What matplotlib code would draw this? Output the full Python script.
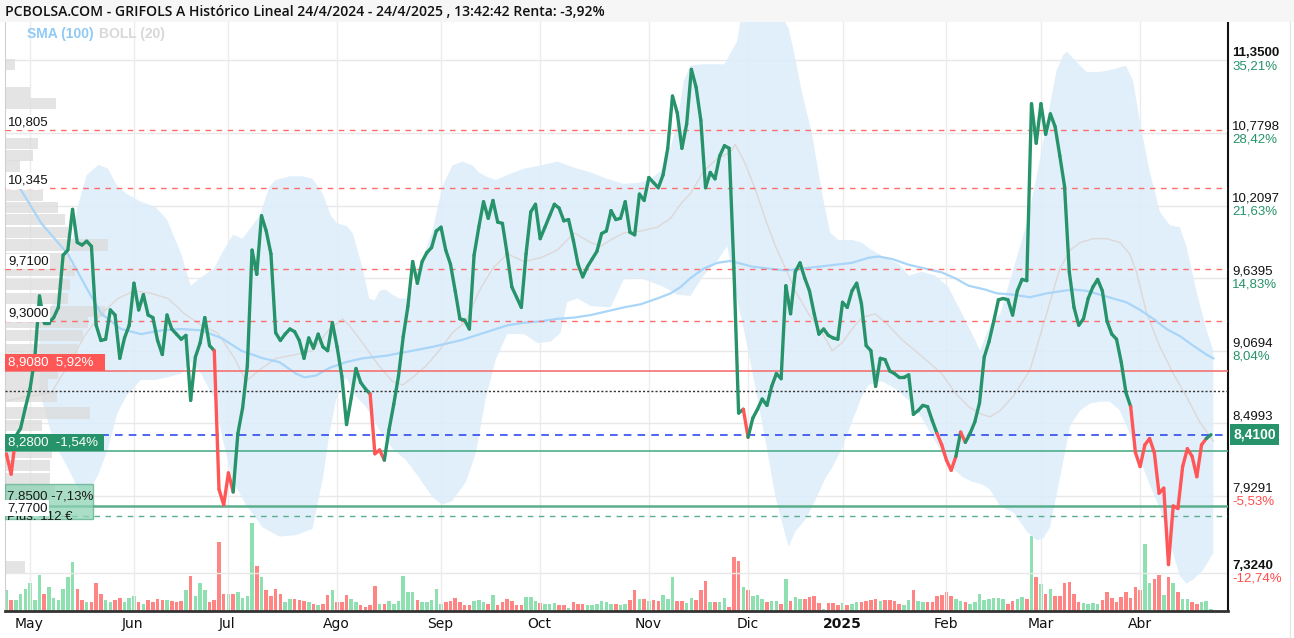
import numpy as np
import matplotlib.pyplot as plt
from matplotlib.collections import LineCollection
from matplotlib.patches import Rectangle
from matplotlib.transforms import blended_transform_factory

# Cierres diarios GRIFOLS A, sesiones del 24/4/2024 al 24/4/2025
precio = [
    8.26, 8.10, 8.40, 8.46, 8.62, 8.77, 9.01, 9.50, 9.29, 9.29,
    9.33, 9.41, 9.82, 9.86, 10.18, 9.92, 9.90, 9.93, 9.89, 9.27,
    9.15, 9.16, 9.39, 9.35, 9.01, 9.17, 9.27, 9.60, 9.39, 9.51,
    9.35, 9.33, 9.15, 9.04, 9.35, 9.24, 9.20, 9.16, 9.19, 8.68,
    9.02, 9.13, 9.33, 9.11, 9.07, 7.98, 7.86, 8.11, 7.96, 8.42,
    8.62, 8.95, 9.86, 9.67, 10.13, 10.01, 9.83, 9.21, 9.15, 9.20,
    9.24, 9.22, 9.15, 9.01, 9.17, 9.09, 9.20, 9.10, 9.07, 9.29,
    9.10, 8.87, 8.49, 8.70, 8.93, 8.82, 8.77, 8.73, 8.26, 8.29,
    8.21, 8.45, 8.65, 8.87, 9.18, 9.42, 9.77, 9.60, 9.77, 9.84,
    9.88, 10.01, 10.04, 9.86, 9.75, 9.54, 9.32, 9.31, 9.24, 9.82,
    10.04, 10.24, 10.11, 10.25, 10.08, 10.07, 9.83, 9.57, 9.49, 9.41,
    9.83, 10.16, 10.22, 9.95, 10.04, 10.13, 10.22, 10.19, 10.09, 10.10,
    9.94, 9.75, 9.65, 9.73, 9.79, 9.85, 9.99, 10.01, 10.17, 10.10,
    10.11, 10.24, 10.00, 9.98, 10.30, 10.25, 10.43, 10.39, 10.35, 10.45,
    10.66, 11.07, 10.94, 10.66, 10.85, 11.28, 11.14, 10.88, 10.35, 10.47,
    10.42, 10.60, 10.68, 10.66, 9.72, 8.58, 8.61, 8.39, 8.54, 8.61,
    8.69, 8.64, 8.79, 8.89, 8.85, 9.58, 9.36, 9.69, 9.76, 9.64,
    9.54, 9.36, 9.20, 9.24, 9.19, 9.17, 9.16, 9.45, 9.41, 9.54,
    9.60, 9.44, 9.11, 9.07, 8.79, 9.01, 9.00, 8.91, 8.89, 8.86,
    8.86, 8.88, 8.57, 8.60, 8.64, 8.63, 8.52, 8.42, 8.33, 8.21,
    8.13, 8.24, 8.43, 8.35, 8.42, 8.51, 8.66, 9.02, 9.14, 9.30,
    9.47, 9.48, 9.47, 9.35, 9.54, 9.63, 9.62, 11.01, 10.70, 11.01,
    10.77, 10.93, 10.83, 10.60, 10.36, 9.69, 9.41, 9.27, 9.32, 9.48,
    9.57, 9.63, 9.54, 9.30, 9.20, 9.16, 8.98, 8.74, 8.63, 8.27,
    8.16, 8.33, 8.38, 8.27, 7.95, 7.99, 7.39, 7.85, 7.83, 8.16,
    8.30, 8.24, 8.08, 8.33, 8.38, 8.41,
]

volumen = [
    55, 30, 30, 45, 60, 75, 30, 95, 45, 65, 35, 30, 60, 90, 130, 60, 30, 25, 25, 75,
    45, 30, 25, 30, 35, 25, 35, 40, 25, 20, 30, 25, 33, 30, 30, 27, 25, 27, 55, 93,
    40, 75, 55, 25, 30, 185, 45, 45, 45, 50, 35, 40, 235,
    120, 90, 55, 40, 60, 45, 25, 33, 33, 30, 28, 25, 18, 15, 20, 43, 55, 25, 25, 43,
    33, 25, 15, 10, 15, 67, 20, 20, 27, 20, 27, 93, 50, 50, 30, 25, 25, 30, 60, 20,
    25, 27, 35, 23, 15, 15, 28, 30, 25, 20, 43,
    15, 23, 33, 28, 15, 15, 38, 38, 28, 22, 18, 18, 22, 15, 15, 7, 25, 20, 20, 15,
    15, 18, 27, 23, 20, 20, 17, 20, 30, 55, 33, 33, 28, 30, 28, 42, 33, 90, 27, 27,
    22, 35, 30, 55, 80, 23, 23, 25, 35, 10, 145, 135,
    65, 55, 40, 42, 33, 25, 27, 28, 18, 85, 27, 38, 32, 32, 38, 40, 22, 5, 22, 22,
    15, 22, 15, 20, 25, 25, 28, 30, 33, 28, 30, 30, 27, 20, 15, 30, 57, 27, 25, 23,
    25, 40, 43, 50, 40, 33, 28, 25, 18, 23, 45,
    30, 33, 35, 35, 32, 18, 28, 33, 38, 33, 200, 90, 72, 45, 60, 40, 40, 75, 78, 45,
    25, 22, 20, 22, 18, 30, 50, 35, 25, 37, 52, 35, 65, 55, 180, 75, 85, 95, 43, 90,
    75, 50, 33, 33, 25, 20, 25, 28, 5,
]

# Bandas de Bollinger (20): (sesion, valor)
boll_sup_x = [7, 9.5, 13, 15, 17, 19.5, 21.5, 23.5, 25.5, 28.5, 31.5, 34, 37, 39, 41, 44, 46, 48, 50,
              53.6, 55.7, 57, 60, 62.7, 64.8, 67, 68.7, 70, 72, 73.3, 75.4, 76.8, 78, 79, 80.3, 81.7,
              83.2, 85.3, 87.4, 90.2, 92.3, 94.4, 96.5, 98.7, 100, 101.5, 103.6, 106, 109.6, 113,
              116.6, 120, 123.7, 127.2, 130.7, 134.3, 136.4, 138.5, 140.6, 142, 143.4, 144.8, 147.6,
              152, 154.7, 156, 159, 162, 165.6, 166.7, 168.4, 170.5, 172.7, 174.4, 176.2, 179, 181,
              183.2, 186, 189, 191, 193.8, 196.6, 199.4, 202.3, 205, 206.1, 208.2, 210.4, 213.2, 216,
              218, 220.2, 222.3, 223.7, 224.5, 226.6, 228.7, 231.5, 234.3, 237, 238.5, 240, 242, 244.2,
              246.3, 248.4, 249.8, 251.9, 254, 255.5]
boll_sup = [9.33, 9.41, 9.72, 10.19, 10.45, 10.53, 10.50, 10.36, 10.30, 10.24, 10.20, 10.10, 9.83, 9.58,
            9.64, 9.72, 9.86, 9.98, 9.95,
            10.13, 10.36, 10.41, 10.44, 10.44, 10.42, 10.30, 10.13, 10.07, 10.05, 9.995, 9.72, 9.48,
            9.465, 9.54, 9.55, 9.51, 9.48, 9.48, 9.72, 10.01, 10.36, 10.525, 10.555, 10.525, 10.47,
            10.44, 10.41, 10.45, 10.50, 10.525, 10.555, 10.51, 10.47, 10.42, 10.38, 10.39, 10.42,
            10.48, 10.66, 10.865, 11.19, 11.31, 11.32, 11.32, 11.5, 11.8, 11.95, 11.85, 11.60, 11.42,
            11.10, 10.78, 10.30, 9.995, 9.94, 9.94, 9.92, 9.86, 9.80, 9.75, 9.66, 9.69, 9.66, 9.57,
            9.36, 9.16, 9.07, 9.27, 9.36, 9.715, 10.07, 10.42, 10.86, 11.27, 11.39, 11.42, 11.335,
            11.26, 11.26, 11.28, 11.31, 11.19, 10.86, 10.48, 10.16, 10.055, 10.04, 9.89, 9.54, 9.24,
            9.07]
boll_inf_x = [7, 10, 13, 15, 17, 19.5, 21.5, 23.5, 25.5, 28.5, 31.5, 34, 37, 39, 41, 44, 46, 48,
              50.7, 54.3, 57.8, 61.3, 64.8, 67, 68.4, 69.8, 71.9, 74, 76.1, 78.9, 81.7, 84.6, 87.4,
              90.2, 92.3, 94.4, 97.3, 99.4, 101.5, 103.6, 106, 109.6, 112.4, 115.2, 117.3, 118.7,
              120.9, 123.7, 127.9, 130.7, 134.3, 139.2, 142, 144.8, 147.6, 150.5, 152.6, 154.3,
              156.4, 158.6, 160.7, 162.8, 164.9, 165.6, 167, 169.1, 171.2, 173.4, 174.8, 176.9, 179,
              181.1, 182.5, 185.3, 188.2, 191, 193.8, 196.6, 199.4, 202.3, 204.4, 206.5, 208.2,
              210.4, 213.2, 216, 218.1, 219.5, 220.9, 223, 225.2, 227.3, 229.4, 231.5, 233.6, 235.7,
              237.1, 238.5, 240, 242.1, 244.2, 246.3, 248.4, 249.8, 251.2, 253.3, 255.5]
boll_inf = [8.75, 8.35, 8.15, 8.00, 7.93, 8.10, 8.30, 8.58, 8.72, 8.84, 8.84, 8.86, 8.89, 8.98, 8.90,
            8.70, 8.34, 8.04,
            7.86, 7.68, 7.61, 7.62, 7.67, 8.07, 8.42, 8.685, 8.86, 8.71, 8.63, 8.45, 8.30, 8.21, 8.07,
            7.92, 7.86, 7.89, 8.04, 8.27, 8.70, 9.00, 9.20, 9.20, 9.13, 9.14, 9.21, 9.45,
            9.48, 9.42, 9.41, 9.63, 9.64, 9.57, 9.51, 9.50, 9.66, 9.775, 9.89, 9.54,
            9.185, 8.77, 8.36, 7.92, 7.62, 7.53, 7.65, 7.74, 7.89, 8.07, 8.15, 8.30, 8.51,
            8.71, 8.80, 8.83, 8.77, 8.68, 8.54, 8.36, 8.18, 8.08, 8.04, 8.02, 7.98,
            7.845, 7.80, 7.65, 7.58, 7.595, 7.68, 8.065, 8.48, 8.60, 8.655, 8.67, 8.67, 8.60,
            8.48, 8.36, 8.21, 8.01, 7.83, 7.565, 7.30, 7.24, 7.27, 7.345, 7.48]
boll_med_x = [0.35, 3.2, 9.5, 13, 16.6, 20.1, 23.6, 27.1, 30.7, 34.2, 37.7, 41.2, 44.7, 48.3, 50.7,
              53.6, 57.1, 61.3, 64.8, 68.4, 71.2, 72.6, 75.4, 78.9, 81.7, 83.9, 86, 88.8, 91.6, 94.4,
              97.3, 100.1, 103, 106.1, 109.6, 113.1, 116.6, 120.2, 123.7, 125.8, 127.9, 130.7, 134.3,
              137.8, 140.6, 142.7, 144.8, 147.6, 150.5, 153.3, 154.3, 156.4, 158.6, 160.7, 162.8,
              164.9, 167, 169.8, 172.7, 174.8, 176.9, 179, 181.1, 183.9, 186.7, 189.6, 192.4, 195.2,
              198, 200.8, 203.7, 206.5, 208.2, 210.4, 213.2, 216.7, 220.2, 223, 225.2, 227.3, 230.1,
              232.9, 235.7, 237.8, 239.2, 241.4, 244.2, 247, 249.8, 252.6, 255.5]
boll_med = [8.68, 8.70, 8.74, 8.95, 9.19, 9.36, 9.48, 9.54, 9.52, 9.48, 9.36, 9.27, 9.21, 9.01, 8.83,
            8.92, 9.01, 9.04, 9.07, 9.24, 9.32, 9.27, 9.13, 8.95, 8.83, 8.80, 8.86, 8.95, 9.07, 9.21,
            9.30, 9.54, 9.72, 9.83, 9.77, 9.80, 9.86, 9.995, 9.92, 9.89, 9.94, 9.995, 10.01,
            10.04, 10.11, 10.22, 10.305, 10.48, 10.58, 10.63, 10.69, 10.54, 10.33, 10.10, 9.89,
            9.72, 9.54, 9.36, 9.21, 9.07, 9.13, 9.24, 9.33, 9.36, 9.27, 9.155, 9.07, 8.98,
            8.89, 8.74, 8.63, 8.57, 8.55, 8.60, 8.715, 8.92, 9.36, 9.715, 9.86, 9.92, 9.95,
            9.95, 9.92, 9.83, 9.69, 9.36, 9.10, 8.89, 8.71, 8.51, 8.36]

# Media simple 100 sesiones
sma_x = [2.8, 7.4, 13, 17.3, 20.1, 24.3, 28.5, 32.8, 37, 41.2, 45.5, 49.7, 54.3, 57.8, 61.3, 63.1,
         65.5, 68.4, 71.9, 75.4, 80.3, 86, 90.2, 96.5, 103.6, 106.1, 109.6, 113.1, 116.6, 120.2,
         123.7, 127.2, 130.7, 134.3, 137.8, 140.6, 142.7, 144.8, 147.6, 150.5, 153.3, 157.9, 161.4,
         164.9, 168.4, 172, 175.5, 179, 182.5, 184.6, 187.5, 191, 194.5, 198, 200.8, 203.7, 207.2,
         209.7, 213.2, 216.7, 220.2, 223.7, 225.9, 228.7, 231.5, 234.3, 237.1, 240, 242.8, 245.6,
         248.4, 251.2, 254, 255.5]
sma = [10.35, 10.07, 9.83, 9.54, 9.36, 9.24, 9.20, 9.23, 9.24, 9.23, 9.17, 9.07, 9.01, 8.98, 8.89,
       8.86, 8.875, 8.935, 8.98, 9.01, 9.03, 9.07, 9.10, 9.155, 9.24, 9.27, 9.29, 9.30, 9.32, 9.33,
       9.35, 9.38, 9.41, 9.435, 9.48, 9.52, 9.57, 9.64, 9.715, 9.76, 9.775, 9.73, 9.715,
       9.70, 9.715, 9.73, 9.745, 9.76, 9.80, 9.81, 9.79, 9.745, 9.715, 9.685, 9.64, 9.58, 9.55,
       9.52, 9.51, 9.49, 9.52, 9.54, 9.55, 9.54, 9.51, 9.48, 9.45, 9.39, 9.32, 9.24,
       9.185, 9.11, 9.04, 9.01]

# Perfil de volumen por precio (lado izquierdo)
perfil_precio = [11.315, 11.10, 11.01, 10.70, 10.605, 10.52, 10.29, 10.195, 10.10, 10.00, 9.90,
                 9.79, 9.70, 9.59, 9.48, 9.375, 9.29, 9.19, 9.08, 8.99, 8.89, 8.80, 8.71, 8.58,
                 8.48, 8.375, 8.27, 8.17, 8.065, 7.97, 7.875, 7.37]
perfil_vol = [10, 25, 51, 33, 28, 15, 38, 53, 60, 63, 103, 65, 70, 65, 63, 100, 83, 78, 73, 58,
              53, 43, 52, 85, 37, 33, 47, 45, 45, 50, 45, 20]

meses = ["May", "Jun", "Jul", "Ago", "Sep", "Oct", "Nov", "Dic", "2025", "Feb", "Mar", "Abr"]
meses_sesion = [5, 27, 47, 70, 92, 113, 136, 157, 177, 199, 219, 240]

escala_precios = ["11,3500", "10,7798", "10,2097", "9,6395", "9,0694", "8,4993", "7,9291", "7,3240"]
escala_valores = [11.35, 10.7798, 10.2097, 9.6395, 9.0694, 8.4993, 7.9291, 7.324]
escala_renta = ["35,21%", "28,42%", "21,63%", "14,83%", "8,04%", "1,25%", "-5,53%", "-12,74%"]

niveles_rojos = [10.805, 10.345, 9.71, 9.30]
niveles_texto = ["10,805", "10,345", "9,7100", "9,3000"]

precio_inicio = 8.753
precio_actual = 8.41

VERDE = "#26936a"
ROJO = "#ff5757"
W, H = 1294, 638

fig = plt.figure(figsize=(W / 100, H / 100), dpi=100)
fig.patch.set_facecolor("white")
fig.patches.append(Rectangle((0, 1 - 22 / H), 1, 22 / H, transform=fig.transFigure,
                             facecolor="#f6f6f6", edgecolor="none"))
fig.text(5 / W, 1 - 12 / H, "PCBOLSA.COM - GRIFOLS A Histórico Lineal 24/4/2024 - 24/4/2025 , 13:42:42 Renta: -3,92%",
         fontsize=10.1, fontweight="semibold", family="Open Sans", va="center", color="#111111")

ax = fig.add_axes([5 / W, 1 - 611 / H, (1228 - 5) / W, (611 - 22) / H])
axv = ax.twinx()
ax.set_zorder(axv.get_zorder() + 1)
ax.patch.set_visible(False)

x = np.arange(len(precio))
ymin, ymax = 7.025, 11.652
ax.set_xlim(-0.3, 258.6)
ax.set_ylim(ymin, ymax)

# rejilla
for v in escala_valores:
    ax.axhline(v, color="#e8e8e8", lw=1, zorder=0)
for m in meses_sesion:
    ax.axvline(m, color="#ececec", lw=1, zorder=0)

# volumen
col_vol = ["#8fe0b0"] + ["#8fe0b0" if precio[i] >= precio[i - 1] else "#ff8585" for i in range(1, len(precio))]
axv.bar(x, volumen, width=0.75, color=col_vol, linewidth=0)
axv.set_ylim(0, 1575)
axv.set_xlim(-0.3, 258.6)
axv.axis("off")

# bollinger
ax.fill(np.concatenate([boll_sup_x, boll_inf_x[::-1]]), np.concatenate([boll_sup, boll_inf[::-1]]),
        color="#dcedfb", alpha=0.85, lw=0, zorder=1)
ax.plot(boll_med_x, boll_med, color="#ddd8d6", lw=1, zorder=2)
ax.plot(sma_x, sma, color="#a9d6f8", lw=1.6, zorder=2)

# perfil de volumen
ax.barh(perfil_precio, np.array(perfil_vol) / 4.73, left=-0.3, height=0.088,
        color="#dcdcdc", alpha=0.75, zorder=1.8)

# niveles
for v, t in zip(niveles_rojos, niveles_texto):
    ax.axhline(v, color="#ff6a6a", lw=1, dashes=(4, 4), zorder=3)
    ax.text(3 / 1223, v + 1.5 / 127.4, t, transform=blended_transform_factory(ax.transAxes, ax.transData),
            fontsize=9.5, family="Liberation Sans", va="bottom", ha="left", color="#111111",
            bbox=dict(fc="white", ec="none", pad=1.2), zorder=6)
ax.axhline(8.908, color="#f47272", lw=1.2, zorder=3)
ax.axhline(precio_inicio, color="#333333", lw=1, dashes=(1.5, 1.5), zorder=3)
ax.axhline(precio_actual, color="#1f3df0", lw=1.1, dashes=(5, 4), zorder=3)
ax.axhline(8.28, color="#4fae8a", lw=1.2, zorder=3)
ax.axhline(7.85, color="#5aae8c", lw=1.8, zorder=3)
ax.axhline(7.77, color="#5aae8c", lw=1, dashes=(4, 4), zorder=3)

# cotizacion
pts = np.column_stack([x, precio])
segs = np.stack([pts[:-1], pts[1:]], axis=1)
col_seg = [ROJO if precio[i + 1] < precio_actual else VERDE for i in range(len(precio) - 1)]
ax.add_collection(LineCollection(segs, colors=col_seg, linewidths=2.4, capstyle="round",
                                 joinstyle="round", zorder=5))

ax.spines["top"].set_visible(False)
ax.spines["left"].set_color("#d0d0d0")
ax.spines["right"].set_color("#111111")
ax.spines["right"].set_linewidth(1.5)
ax.spines["bottom"].set_color("#333333")
ax.spines["bottom"].set_linewidth(2)
ax.set_xticks([])
ax.set_yticks([])

# leyenda
ax.text(22 / 1223, 1 - 12 / 589, "SMA (100)", transform=ax.transAxes, color="#8fcaf5", fontsize=10,
        fontweight="bold", family="Liberation Sans", va="center")
ax.text(94 / 1223, 1 - 12 / 589, "BOLL (20)", transform=ax.transAxes, color="#d8d8d8", fontsize=10,
        fontweight="bold", family="Liberation Sans", va="center")

# etiquetas izquierda
tb = blended_transform_factory(fig.transFigure, ax.transData)
ax.add_patch(Rectangle((-0.3, 8.908), 100 / 4.73, 17 / 127.4, facecolor="#ff5656", edgecolor="none", zorder=6))
ax.text(-0.3 + 3 / 4.73, 8.908 + 8.5 / 127.4, "8,9080  5,92%", color="white", fontsize=9.5,
        family="Liberation Sans", va="center", zorder=7)
ax.add_patch(Rectangle((-0.3, 8.28), 99 / 4.73, 17 / 127.4, facecolor=VERDE, edgecolor="none", zorder=6))
ax.text(-0.3 + 3 / 4.73, 8.28 + 8.5 / 127.4, "8,2800  -1,54%", color="white", fontsize=9.5,
        family="Liberation Sans", va="center", zorder=7)
ax.add_patch(Rectangle((-0.3, 7.745), 88 / 4.73, 35 / 127.4, facecolor="#8fd3b5", alpha=0.75,
                       edgecolor="#5aae8c", zorder=6))
ax.text(-0.3 + 2 / 4.73, 7.85 + 9 / 127.4, "7,8500 -7,13%", color="#1a1a1a", fontsize=9.5,
        family="Liberation Sans", va="center", zorder=7)
ax.text(-0.3 + 2 / 4.73, 7.77 - 1 / 127.4, "Plus. 112 €", color="#1a1a1a", fontsize=9.5,
        family="Liberation Sans", va="center", zorder=7)
ax.text(-0.3 + 2 / 4.73, 7.77 + 8 / 127.4, "7,7700", color="#111111", fontsize=9.5,
        family="Liberation Sans", va="center", zorder=8, bbox=dict(fc="white", ec="none", pad=1.2))

# escala derecha
for i, (t, v, r) in enumerate(zip(escala_precios, escala_valores, escala_renta)):
    negrita = "bold" if i in (0, len(escala_valores) - 1) else "normal"
    fig.text(1232 / W, v + 7 / 127.4, t, transform=tb, fontsize=9.5, family="Liberation Sans",
             fontweight=negrita, va="center", color="#111111")
    fig.text(1232 / W, v - 6 / 127.4, r, transform=tb, fontsize=9.5, family="Liberation Sans",
             va="center", color=VERDE if not r.startswith("-") else "#ff4d4d")
fig.text(1233 / W, precio_actual, "8,4100", transform=tb, fontsize=10, family="Liberation Sans",
         fontweight="bold", va="center", color="white",
         bbox=dict(fc=VERDE, ec="none", boxstyle="square,pad=0.25"))
fig.add_artist(plt.Line2D([1290 / W, 1290 / W], [0, 1 - 22 / H], color="#e6e6e6", lw=1))

# meses
for m, t in zip(meses_sesion, meses):
    xf = (5 + m * 4.73) / W
    fig.text(xf, 1 - 624 / H, t, fontsize=10, family="Liberation Sans Narrow", ha="center", va="center",
             color="#111111", fontweight="bold" if t == "2025" else "normal")

fig.savefig("out.png", dpi=100)
